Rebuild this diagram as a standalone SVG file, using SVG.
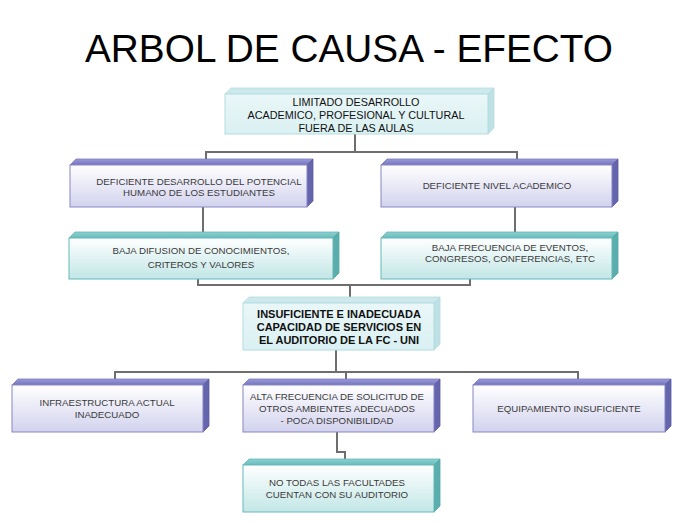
<svg xmlns="http://www.w3.org/2000/svg" width="700" height="525" viewBox="0 0 700 525">
<defs>
<linearGradient id="fP" x1="0" y1="0" x2="0" y2="1"><stop offset="0" stop-color="#ffffff"/><stop offset="1" stop-color="#d2d2ee"/></linearGradient>
<linearGradient id="tP" x1="0" y1="0" x2="0" y2="1"><stop offset="0" stop-color="#9a9ad8"/><stop offset="1" stop-color="#7474c0"/></linearGradient>
<linearGradient id="fT" x1="0" y1="0" x2="0" y2="1"><stop offset="0" stop-color="#ffffff"/><stop offset="1" stop-color="#c2e6e6"/></linearGradient>
<linearGradient id="tT" x1="0" y1="0" x2="0" y2="1"><stop offset="0" stop-color="#8ed0d0"/><stop offset="1" stop-color="#66bcbc"/></linearGradient>
<linearGradient id="fC" x1="0" y1="0" x2="0" y2="1"><stop offset="0" stop-color="#eaf7f8"/><stop offset="1" stop-color="#daf0f2"/></linearGradient>
</defs>
<style>
.title{font-family:"Liberation Sans",Arial,sans-serif;font-size:39px;fill:#000}
.t{font-family:"Liberation Sans",Arial,sans-serif;font-size:9.7px;fill:#3a3a3a;text-anchor:middle}
.tb{font-family:"Liberation Sans",Arial,sans-serif;font-size:10.8px;fill:#111;text-anchor:middle}
.tbb{font-family:"Liberation Sans",Arial,sans-serif;font-size:11px;font-weight:bold;fill:#111;text-anchor:middle}
.pf{fill:url(#fP);stroke:#8686c4;stroke-width:1}
.pt{fill:url(#tP);stroke:#7a7abf;stroke-width:0.8}
.ps{fill:#6565ad;stroke:#5c5ca4;stroke-width:0.8}
.tf{fill:url(#fT);stroke:#66b8b8;stroke-width:1}
.tt{fill:url(#tT);stroke:#66b8b8;stroke-width:0.8}
.ts{fill:#5aaeae;stroke:#52a6a6;stroke-width:0.8}
.cf{fill:url(#fC);stroke:#b2dde0;stroke-width:1}
.ct{fill:#cde9ec;stroke:#b2dde0;stroke-width:0.8}
.cs{fill:#bfe1e5;stroke:#b2dde0;stroke-width:0.8}
.c{fill:none;stroke:#6e6e6e;stroke-width:2}
</style>
<rect width="700" height="525" fill="#ffffff"/>
<text class="title" x="349" y="62" text-anchor="middle" textLength="528" lengthAdjust="spacingAndGlyphs">ARBOL DE CAUSA - EFECTO</text>

<g id="connectors">
<polyline class="c" points="355,134 355,152"/>
<polyline class="c" points="206,160 206,152 517,152 517,160"/>
<polyline class="c" points="203,207 203,233"/>
<polyline class="c" points="515,207 515,233"/>
<polyline class="c" points="198,279 198,285 470,285 470,279"/>
<polyline class="c" points="350,285 350,297"/>
<polyline class="c" points="336,350 336,372"/>
<polyline class="c" points="115,380 115,372 578,372 578,380"/>
<polyline class="c" points="346,372 346,380"/>
<polyline class="c" points="337,432 337,452 345,452 345,459"/>
</g>

<g id="n1">
<polygon class="ct" points="225,94 231,88 494,88 488,94"/>
<polygon class="cs" points="488,94 494,88 494,128 488,134"/>
<rect class="cf" x="225" y="94" width="263" height="40"/>
<text class="tb" x="356" y="106">LIMITADO DESARROLLO</text>
<text class="tb" x="356" y="119">ACADEMICO, PROFESIONAL Y CULTURAL</text>
<text class="tb" x="356" y="132">FUERA DE LAS AULAS</text>
</g>

<g id="n2">
<polygon class="pt" points="70,165 76,159 313,159 307,165"/>
<polygon class="ps" points="307,165 313,159 313,201 307,207"/>
<rect class="pf" x="70" y="165" width="237" height="42"/>
<text class="t" x="199" y="185">DEFICIENTE DESARROLLO DEL POTENCIAL</text>
<text class="t" x="199" y="196">HUMANO DE LOS ESTUDIANTES</text>
</g>

<g id="n3">
<polygon class="pt" points="381,165 387,159 618,159 612,165"/>
<polygon class="ps" points="612,165 618,159 618,201 612,207"/>
<rect class="pf" x="381" y="165" width="231" height="42"/>
<text class="t" x="497" y="189">DEFICIENTE NIVEL ACADEMICO</text>
</g>

<g id="n4">
<polygon class="tt" points="69,238 75,232 339,232 333,238"/>
<polygon class="ts" points="333,238 339,232 339,273 333,279"/>
<rect class="tf" x="69" y="238" width="264" height="41"/>
<text class="t" x="201" y="254">BAJA DIFUSION DE CONOCIMIENTOS,</text>
<text class="t" x="201" y="268">CRITEROS Y VALORES</text>
</g>

<g id="n5">
<polygon class="tt" points="381,238 387,232 618,232 612,238"/>
<polygon class="ts" points="612,238 618,232 618,273 612,279"/>
<rect class="tf" x="381" y="238" width="231" height="41"/>
<text class="t" x="510" y="251">BAJA FRECUENCIA DE EVENTOS,</text>
<text class="t" x="510" y="262">CONGRESOS, CONFERENCIAS, ETC</text>
</g>

<g id="n6">
<polygon class="ct" points="243,303 249,297 440,297 434,303"/>
<polygon class="cs" points="434,303 440,297 440,344 434,350"/>
<rect class="cf" x="243" y="303" width="191" height="47"/>
<text class="tbb" x="339" y="318">INSUFICIENTE E INADECUADA</text>
<text class="tbb" x="339" y="331">CAPACIDAD DE SERVICIOS EN</text>
<text class="tbb" x="339" y="344">EL AUDITORIO DE LA FC - UNI</text>
</g>

<g id="n7">
<polygon class="pt" points="12,385 18,379 209,379 203,385"/>
<polygon class="ps" points="203,385 209,379 209,426 203,432"/>
<rect class="pf" x="12" y="385" width="191" height="47"/>
<text class="t" x="107" y="406">INFRAESTRUCTURA ACTUAL</text>
<text class="t" x="107" y="418">INADECUADO</text>
</g>

<g id="n8">
<polygon class="pt" points="243,385 249,379 440,379 434,385"/>
<polygon class="ps" points="434,385 440,379 440,426 434,432"/>
<rect class="pf" x="243" y="385" width="191" height="47"/>
<text class="t" x="337" y="400">ALTA FRECUENCIA DE SOLICITUD DE</text>
<text class="t" x="337" y="412">OTROS AMBIENTES ADECUADOS</text>
<text class="t" x="337" y="424">- POCA DISPONIBILIDAD</text>
</g>

<g id="n9">
<polygon class="pt" points="473,385 479,379 671,379 665,385"/>
<polygon class="ps" points="665,385 671,379 671,426 665,432"/>
<rect class="pf" x="473" y="385" width="192" height="47"/>
<text class="t" x="569" y="412">EQUIPAMIENTO INSUFICIENTE</text>
</g>

<g id="n10">
<polygon class="tt" points="243,465 249,459 440,459 434,465"/>
<polygon class="ts" points="434,465 440,459 440,506 434,512"/>
<rect class="tf" x="243" y="465" width="191" height="47"/>
<text class="t" x="337" y="486">NO TODAS LAS FACULTADES</text>
<text class="t" x="337" y="498">CUENTAN CON SU AUDITORIO</text>
</g>
</svg>
